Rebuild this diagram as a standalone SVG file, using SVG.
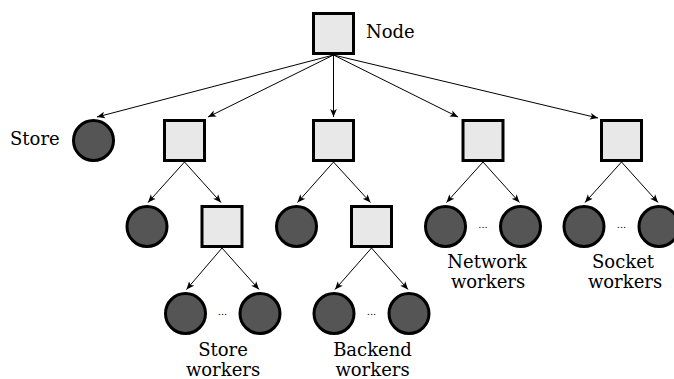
<svg xmlns="http://www.w3.org/2000/svg" width="674" height="379" viewBox="0 0 674 379">
<style>
.sq{fill:#e8e8e8;stroke:#000;stroke-width:3}
.ci{fill:#555555;stroke:#000;stroke-width:3}
.ed{stroke:#000;stroke-width:1;fill:none;marker-end:url(#ah)}
.lb{font-family:"DejaVu Serif",serif;font-size:18px;fill:#000}
.ct{text-anchor:middle}
.dt{font-family:"DejaVu Serif",serif;font-size:10px;fill:#000;text-anchor:middle}
</style>
<defs>
<marker id="ah" viewBox="0 0 10 10" refX="10" refY="5" markerWidth="8" markerHeight="8" markerUnits="userSpaceOnUse" orient="auto">
<path d="M0,0.8 L10,5 L0,9.2 L2.5,5 z" fill="#000"/>
</marker>
</defs>
<rect width="674" height="379" fill="#fff"/>
<g id="connectors">
<line class="ed" x1="333.5" y1="55" x2="97" y2="117"/>
<line class="ed" x1="333.5" y1="55" x2="208" y2="117"/>
<line class="ed" x1="333.5" y1="55" x2="333.5" y2="117"/>
<line class="ed" x1="333.5" y1="55" x2="458" y2="117"/>
<line class="ed" x1="333.5" y1="55" x2="598" y2="118"/>
<line class="ed" x1="184.5" y1="162" x2="148" y2="202.5"/>
<line class="ed" x1="184.5" y1="162" x2="221" y2="202.5"/>
<line class="ed" x1="333.5" y1="162" x2="297.5" y2="202.5"/>
<line class="ed" x1="333.5" y1="162" x2="370.5" y2="202.5"/>
<line class="ed" x1="483" y1="162" x2="446.5" y2="202.5"/>
<line class="ed" x1="483" y1="162" x2="519.5" y2="202.5"/>
<line class="ed" x1="621.5" y1="162" x2="585" y2="202.5"/>
<line class="ed" x1="621.5" y1="162" x2="658" y2="202.5"/>
<line class="ed" x1="222" y1="248" x2="186.5" y2="289.5"/>
<line class="ed" x1="222" y1="248" x2="259" y2="289.5"/>
<line class="ed" x1="371.5" y1="248" x2="335" y2="289.5"/>
<line class="ed" x1="371.5" y1="248" x2="408" y2="289.5"/>
</g>
<g id="node-root"><rect class="sq" x="313.5" y="13.5" width="40" height="40"/><text class="lb" x="366" y="38">Node</text></g>
<g id="store"><circle class="ci" cx="93.5" cy="140.5" r="20"/><text class="lb" x="10" y="145">Store</text></g>
<g id="sq-a"><rect class="sq" x="164.5" y="120.5" width="40" height="40"/></g>
<g id="sq-b"><rect class="sq" x="313.5" y="120.5" width="40" height="40"/></g>
<g id="sq-c"><rect class="sq" x="463" y="120.5" width="40" height="40"/></g>
<g id="sq-d"><rect class="sq" x="601.5" y="120.5" width="40" height="40"/></g>
<g id="a-circle"><circle class="ci" cx="147" cy="226.5" r="20"/></g>
<g id="a-square"><rect class="sq" x="202" y="206.5" width="40" height="40"/></g>
<g id="b-circle"><circle class="ci" cx="296.5" cy="226.5" r="20"/></g>
<g id="b-square"><rect class="sq" x="351.5" y="206.5" width="40" height="40"/></g>
<g id="store-workers"><circle class="ci" cx="185.5" cy="313.5" r="20"/><circle class="ci" cx="260" cy="313.5" r="20"/><text class="dt" x="222.5" y="315">...</text><text class="lb ct" x="223" y="356">Store</text><text class="lb ct" x="223" y="376">workers</text></g>
<g id="backend-workers"><circle class="ci" cx="334" cy="313.5" r="20"/><circle class="ci" cx="409" cy="313.5" r="20"/><text class="dt" x="371.5" y="315">...</text><text class="lb ct" x="372.5" y="356">Backend</text><text class="lb ct" x="372.5" y="376">workers</text></g>
<g id="network-workers"><circle class="ci" cx="445.5" cy="226.5" r="20"/><circle class="ci" cx="520.5" cy="226.5" r="20"/><text class="dt" x="483" y="228">...</text><text class="lb ct" x="487" y="268">Network</text><text class="lb ct" x="488" y="288">workers</text></g>
<g id="socket-workers"><circle class="ci" cx="584" cy="226.5" r="20"/><circle class="ci" cx="659" cy="226.5" r="20"/><text class="dt" x="621.5" y="228">...</text><text class="lb ct" x="623" y="268">Socket</text><text class="lb ct" x="625" y="288">workers</text></g>
</svg>
